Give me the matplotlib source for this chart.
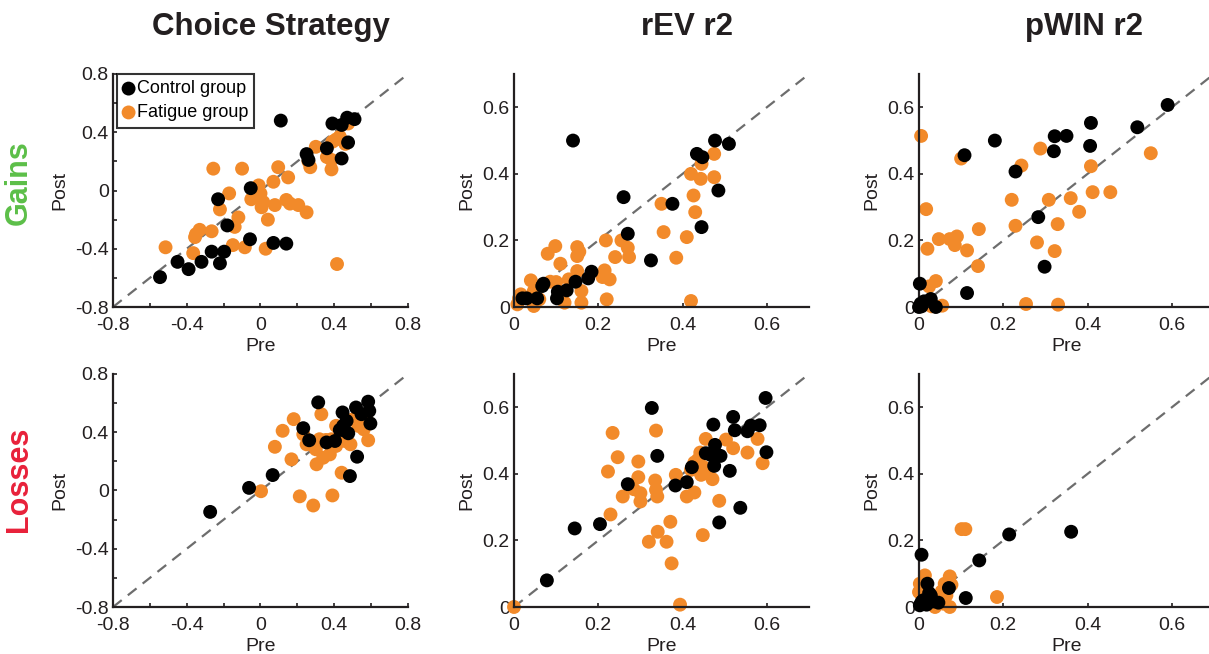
import matplotlib
matplotlib.use('Agg')
import matplotlib.pyplot as plt

plt.rcParams['font.family'] = ['Liberation Sans', 'DejaVu Sans']

# Column titles and row labels
col_titles = ['Choice Strategy', 'rEV r2', 'pWIN r2']
row_labels = ['Gains', 'Losses']
row_colors = ['#5cbf48', '#e8213a']
group_names = ['Control group', 'Fatigue group']
group_colors = ['#000000', '#f28a2a']

# Gains - Choice Strategy (pre, post)
gain_cs_ctrl_pre = [0.11, 0.39, 0.44, 0.47, 0.51, 0.475, 0.44, 0.36, 0.25, 0.26, -0.053, -0.23,
                    -0.18, -0.057, 0.07, 0.14, -0.265, -0.197, -0.22, -0.32, -0.45, -0.39, -0.545]
gain_cs_ctrl_post = [0.48, 0.46, 0.45, 0.50, 0.49, 0.33, 0.22, 0.29, 0.25, 0.21, 0.016, -0.06,
                     -0.24, -0.335, -0.36, -0.365, -0.42, -0.42, -0.50, -0.49, -0.49, -0.54, -0.595]
gain_cs_fat_pre = [-0.515, -0.365, -0.355, -0.33, -0.35, -0.265, -0.256, -0.10, -0.22, -0.17, -0.12,
                   -0.14, -0.15, -0.085, 0.028, -0.02, 0.0, -0.05, 0.006, 0.015, 0.04, 0.07, 0.096,
                   0.078, 0.15, 0.14, 0.16, 0.205, 0.25, 0.26, 0.27, 0.30, 0.36, 0.385, 0.385, 0.41,
                   0.43, 0.39, 0.46, 0.475, 0.415, -0.01]
gain_cs_fat_post = [-0.39, -0.43, -0.32, -0.27, -0.30, -0.28, 0.15, 0.15, -0.13, -0.02, -0.185,
                    -0.25, -0.375, -0.39, -0.40, 0.02, -0.02, -0.06, -0.115, -0.08, -0.20, 0.06, 0.16,
                    -0.10, 0.09, -0.065, -0.09, -0.10, -0.15, 0.20, 0.16, 0.30, 0.23, 0.21, 0.145, 0.35,
                    0.37, 0.335, 0.32, 0.46, -0.505, 0.035]

# Gains - rEV r2
gain_rev_ctrl_pre = [0.14, 0.26, 0.27, 0.325, 0.376, 0.434, 0.447, 0.477, 0.51, 0.485, 0.445,
                     0.184, 0.176, 0.146, 0.125, 0.104, 0.102, 0.07, 0.055, 0.03, 0.02, 0.067]
gain_rev_ctrl_post = [0.50, 0.33, 0.22, 0.14, 0.31, 0.46, 0.45, 0.50, 0.49, 0.35, 0.24,
                      0.106, 0.086, 0.076, 0.05, 0.046, 0.026, 0.07, 0.026, 0.026, 0.026, 0.063]
gain_rev_fat_pre = [0.008, 0.016, 0.04, 0.047, 0.047, 0.06, 0.08, 0.098, 0.086, 0.10, 0.11, 0.12,
                    0.13, 0.15, 0.15, 0.155, 0.15, 0.16, 0.16, 0.21, 0.215, 0.218, 0.227, 0.22, 0.24,
                    0.255, 0.27, 0.273, 0.35, 0.355, 0.385, 0.41, 0.42, 0.426, 0.43, 0.42, 0.445,
                    0.443, 0.475, 0.475, 0.012]
gain_rev_fat_post = [0.008, 0.038, 0.08, 0.048, 0.003, 0.023, 0.16, 0.183, 0.076, 0.075, 0.13, 0.013,
                     0.083, 0.108, 0.18, 0.166, 0.153, 0.048, 0.013, 0.09, 0.11, 0.20, 0.083, 0.023,
                     0.15, 0.20, 0.178, 0.15, 0.31, 0.225, 0.148, 0.21, 0.018, 0.335, 0.285, 0.40,
                     0.43, 0.385, 0.39, 0.46, 0.026]

# Gains - pWIN r2
gain_pwin_ctrl_pre = [0.59, 0.518, 0.408, 0.406, 0.35, 0.322, 0.32, 0.18, 0.108, 0.229, 0.283,
                      0.298, 0.114, 0.002, 0.004, 0.012, 0.028, 0.04, 0.0, 0.006]
gain_pwin_ctrl_post = [0.607, 0.54, 0.553, 0.484, 0.514, 0.513, 0.468, 0.50, 0.456, 0.407, 0.27,
                       0.121, 0.042, 0.07, 0.01, 0.017, 0.024, 0.0, 0.0, 0.002]
gain_pwin_fat_pre = [0.005, 0.017, 0.02, 0.024, 0.04, 0.047, 0.073, 0.09, 0.085, 0.114, 0.142, 0.14,
                     0.10, 0.22, 0.229, 0.243, 0.254, 0.28, 0.288, 0.308, 0.329, 0.322, 0.33, 0.36,
                     0.38, 0.408, 0.412, 0.454, 0.55, 0.055, 0.03]
gain_pwin_fat_post = [0.514, 0.294, 0.175, 0.062, 0.078, 0.204, 0.204, 0.212, 0.186, 0.17, 0.234,
                      0.123, 0.446, 0.322, 0.244, 0.425, 0.009, 0.194, 0.476, 0.322, 0.249, 0.168,
                      0.007, 0.327, 0.286, 0.423, 0.345, 0.345, 0.462, 0.004, 0.002]

# Losses - Choice Strategy
loss_cs_ctrl_pre = [-0.273, -0.062, 0.066, 0.313, 0.232, 0.264, 0.358, 0.404, 0.445, 0.43, 0.458,
                    0.467, 0.476, 0.518, 0.548, 0.584, 0.59, 0.596, 0.524, 0.485, 0.448]
loss_cs_ctrl_post = [-0.147, 0.018, 0.106, 0.605, 0.428, 0.345, 0.33, 0.34, 0.536, 0.416, 0.41,
                     0.478, 0.393, 0.57, 0.524, 0.61, 0.547, 0.46, 0.232, 0.099, 0.444]
loss_cs_fat_pre = [0.003, 0.078, 0.12, 0.168, 0.18, 0.213, 0.232, 0.25, 0.286, 0.304, 0.30, 0.33,
                   0.34, 0.355, 0.376, 0.39, 0.41, 0.44, 0.458, 0.488, 0.503, 0.53, 0.56, 0.584,
                   0.575, 0.41, 0.32, 0.385]
loss_cs_fat_post = [-0.005, 0.30, 0.41, 0.214, 0.49, -0.04, 0.386, 0.317, -0.103, 0.18, 0.283, 0.524,
                    0.225, 0.347, 0.248, -0.034, 0.306, 0.122, 0.34, 0.317, 0.49, 0.444, 0.42, 0.345,
                    0.49, 0.444, 0.352, 0.352]

# Losses - rEV r2
loss_rev_ctrl_pre = [0.078, 0.144, 0.204, 0.27, 0.327, 0.34, 0.383, 0.41, 0.422, 0.455, 0.467,
                     0.475, 0.477, 0.473, 0.49, 0.512, 0.52, 0.524, 0.537, 0.487, 0.554, 0.562,
                     0.583, 0.597, 0.599]
loss_rev_ctrl_post = [0.08, 0.236, 0.249, 0.369, 0.598, 0.454, 0.365, 0.375, 0.42, 0.462, 0.457,
                      0.424, 0.487, 0.548, 0.454, 0.409, 0.571, 0.531, 0.298, 0.254, 0.528, 0.545,
                      0.546, 0.628, 0.465]
loss_rev_fat_pre = [0.0, 0.223, 0.234, 0.246, 0.229, 0.258, 0.284, 0.295, 0.295, 0.30, 0.30, 0.32,
                    0.335, 0.337, 0.337, 0.34, 0.341, 0.362, 0.371, 0.374, 0.384, 0.394, 0.41, 0.428,
                    0.42, 0.428, 0.442, 0.448, 0.455, 0.448, 0.46, 0.471, 0.487, 0.503, 0.52, 0.554,
                    0.578, 0.59, 0.436, 0.444]
loss_rev_fat_post = [0.0, 0.407, 0.523, 0.45, 0.278, 0.332, 0.354, 0.437, 0.39, 0.342, 0.317, 0.196,
                     0.38, 0.53, 0.352, 0.332, 0.226, 0.196, 0.256, 0.131, 0.397, 0.007, 0.332, 0.344,
                     0.412, 0.434, 0.464, 0.216, 0.505, 0.422, 0.402, 0.384, 0.319, 0.503, 0.477,
                     0.464, 0.505, 0.432, 0.442, 0.397]

# Losses - pWIN r2
loss_pwin_ctrl_pre = [0.361, 0.214, 0.143, 0.111, 0.006, 0.071, 0.02, 0.024, 0.01, 0.018, 0.002,
                      0.034, 0.046, 0.028, 0.006]
loss_pwin_ctrl_post = [0.226, 0.218, 0.14, 0.027, 0.157, 0.057, 0.07, 0.042, 0.02, 0.007, 0.005,
                       0.017, 0.013, 0.035, 0.015]
loss_pwin_fat_pre = [0.101, 0.11, 0.185, 0.014, 0.073, 0.077, 0.002, 0.054, 0.065, 0.073, 0.058,
                     0.038, 0.0, 0.061]
loss_pwin_fat_post = [0.234, 0.234, 0.03, 0.095, 0.092, 0.067, 0.07, 0.047, 0.035, 0.0, 0.01,
                      0.0, 0.045, 0.07]

panels = [
    [(gain_cs_ctrl_pre, gain_cs_ctrl_post, gain_cs_fat_pre, gain_cs_fat_post),
     (gain_rev_ctrl_pre, gain_rev_ctrl_post, gain_rev_fat_pre, gain_rev_fat_post),
     (gain_pwin_ctrl_pre, gain_pwin_ctrl_post, gain_pwin_fat_pre, gain_pwin_fat_post)],
    [(loss_cs_ctrl_pre, loss_cs_ctrl_post, loss_cs_fat_pre, loss_cs_fat_post),
     (loss_rev_ctrl_pre, loss_rev_ctrl_post, loss_rev_fat_pre, loss_rev_fat_post),
     (loss_pwin_ctrl_pre, loss_pwin_ctrl_post, loss_pwin_fat_pre, loss_pwin_fat_post)],
]

# Step 1: figure and axes placement (pixels -> fractions)
W, H = 1209, 654
fig = plt.figure(figsize=(W / 100, H / 100), dpi=100)
col_left = [113, 514, 919]
title_center = [271, 687, 1084]
row_bottom = [307, 607]
ax_w, ax_h = 295, 233

ink = '#231f20'
for r in range(2):
    for c in range(3):
        ax = fig.add_axes([col_left[c] / W, 1 - row_bottom[r] / H, ax_w / W, ax_h / H])
        ctrl_x, ctrl_y, fat_x, fat_y = panels[r][c]

        if c == 0:
            lo, hi = -0.8, 0.8
            ticks = [-0.8, -0.6, -0.4, -0.2, 0, 0.2, 0.4, 0.6, 0.8]
            labels = ['-0.8', '', '-0.4', '', '0', '', '0.4', '', '0.8']
        else:
            lo, hi = 0, 0.7
            ticks = [0, 0.2, 0.4, 0.6]
            labels = ['0', '0.2', '0.4', '0.6']

        # identity line
        ax.plot([lo, hi], [lo, hi], color='#6d6d6d', lw=1.6, linestyle=(0, (5, 3.5)), zorder=1)

        # orange under black
        h_fat = ax.scatter(fat_x, fat_y, s=100, color=group_colors[1], edgecolors='none',
                           zorder=2, clip_on=False)
        h_ctrl = ax.scatter(ctrl_x, ctrl_y, s=100, color=group_colors[0], edgecolors='none',
                            zorder=3, clip_on=False)

        ax.set_xlim(lo, hi)
        ax.set_ylim(lo, hi)
        ax.set_xticks(ticks)
        ax.set_xticklabels(labels)
        ax.set_yticks(ticks)
        ax.set_yticklabels(labels)
        for side in ['top', 'right']:
            ax.spines[side].set_visible(False)
        for side in ['left', 'bottom']:
            ax.spines[side].set_linewidth(1.6)
            ax.spines[side].set_color(ink)
        ax.tick_params(direction='in', length=3, width=1.2, color=ink,
                       labelsize=14, labelcolor=ink)
        ax.tick_params(axis='x', pad=7)
        ax.tick_params(axis='y', pad=3)
        ax.set_xlabel('Pre', fontsize=14, color=ink, labelpad=3)
        ax.set_ylabel('Post', fontsize=14, color=ink, labelpad=5)

        if r == 0:
            ax.set_title(col_titles[c], fontsize=22.5, fontweight='bold', color=ink, pad=28,
                         x=(title_center[c] - col_left[c]) / ax_w)
        if c == 0:
            fig.text(19 / W, 1 - (183 if r == 0 else 479) / H, row_labels[r], rotation=90,
                     fontsize=22, fontweight='bold', color=row_colors[r],
                     ha='center', va='center')
        if r == 0 and c == 0:
            leg = ax.legend([h_ctrl, h_fat], group_names, loc='upper left',
                            bbox_to_anchor=(0.013, 1.0), fontsize=13, frameon=True,
                            fancybox=False, handletextpad=0.15, borderpad=0.35,
                            borderaxespad=0, labelspacing=0.38, handlelength=0.6,
                            scatterpoints=1)
            leg.get_frame().set_edgecolor('#000000')
            leg.get_frame().set_linewidth(1.5)
            leg.set_zorder(5)

plt.savefig('out.png', dpi=100)
